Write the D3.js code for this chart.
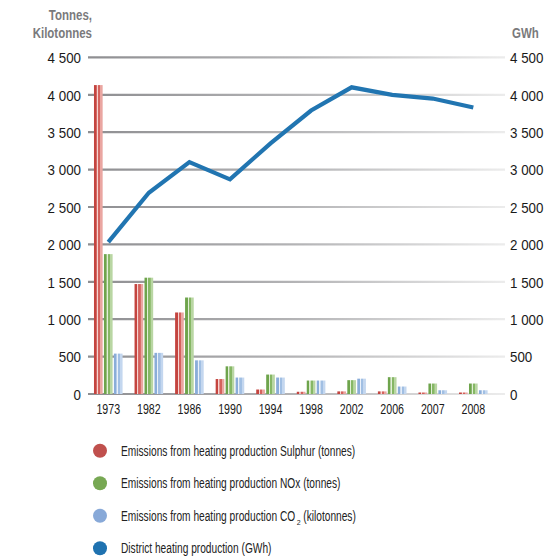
<!DOCTYPE html>
<html>
<head>
<meta charset="utf-8">
<script src="https://cdn.jsdelivr.net/npm/d3@7"></script>
<style>
  body { margin: 0; background: #fff; }
  text { font-family: "Liberation Sans", Arial, sans-serif; }
</style>
</head>
<body>
<div id="viz"></div>
<script>
// values
var years = ['1973', '1982', '1986', '1990', '1994', '1998', '2002', '2006', '2007', '2008'];
var sulphur = [4130, 1470, 1090, 200, 60, 30, 35, 35, 20, 20];
var nox = [1870, 1555, 1290, 370, 260, 180, 185, 225, 140, 140];
var co2 = [540, 550, 450, 220, 220, 180, 205, 100, 50, 50];
var heating = [2030, 2690, 3100, 2870, 3350, 3790, 4100, 4000, 3950, 3830];
var yTicks = [0, 500, 1000, 1500, 2000, 2500, 3000, 3500, 4000, 4500];
var seriesNames = [
  'Emissions from heating production Sulphur (tonnes)',
  'Emissions from heating production NOx (tonnes)',
  'Emissions from heating production CO2 (kilotonnes)',
  'District heating production (GWh)'
];

var width = 560, height = 557;
var plotLeft = 88, plotRight = 493.6, plotTop = 57.4, plotBottom = 394;

var fmt = d3.formatLocale({ decimal: ',', thousands: '\u00a0', grouping: [3], currency: ['', ''] }).format(',d');

// squeeze text horizontally, the original uses a condensed face
function condense(sel, factor) {
  sel.each(function() {
    var w = this.getComputedTextLength();
    d3.select(this)
      .attr('textLength', w * factor)
      .attr('lengthAdjust', 'spacingAndGlyphs');
  });
}

var svg = d3.select('#viz').append('svg')
  .attr('width', width)
  .attr('height', height);

var defs = svg.append('defs');

var grid = defs.append('linearGradient')
  .attr('id', 'gridGrad')
  .attr('gradientUnits', 'userSpaceOnUse')
  .attr('x1', plotLeft).attr('x2', 505).attr('y1', 0).attr('y2', 0);
grid.append('stop').attr('offset', 0).attr('stop-color', '#8e8e91');
grid.append('stop').attr('offset', 0.5).attr('stop-color', '#b4b4b6');
grid.append('stop').attr('offset', 1).attr('stop-color', '#ececec');

// striped look of the bars
var barStyles = [
  { id: 'gRed', dark: '#c4443f', mid: '#d4625d', light: '#f6d4d1', soft: '#eaa6a1' },
  { id: 'gGreen', dark: '#6ea44c', mid: '#86b765', light: '#e2efd8', soft: '#b9d6a3' },
  { id: 'gBlue', dark: '#8aadd9', mid: '#a1bfe3', light: '#eaf1fa', soft: '#c4d7ef' }
];
barStyles.forEach(function(s) {
  var g = defs.append('linearGradient').attr('id', s.id)
    .attr('x1', 0).attr('x2', 1).attr('y1', 0).attr('y2', 0);
  [[0, s.dark], [0.28, s.dark], [0.32, s.light], [0.42, s.light], [0.46, s.mid],
   [0.68, s.mid], [0.72, s.soft], [1, s.soft]].forEach(function(st) {
    g.append('stop').attr('offset', st[0]).attr('stop-color', st[1]);
  });
});

var x = d3.scaleBand()
  .domain(years)
  .range([plotLeft, plotRight])
  .padding(0);

var keys = ['sulphur', 'nox', 'co2'];
var x1 = d3.scaleBand()
  .domain(keys)
  .range([x.bandwidth() / 2 - 14.3, x.bandwidth() / 2 + 14.3])
  .paddingInner(0.13);

var y = d3.scaleLinear()
  .domain([0, 4500])
  .range([plotBottom, plotTop]);

// gridlines
svg.append('g').selectAll('line')
  .data(yTicks)
  .enter().append('line')
  .attr('x1', plotLeft).attr('x2', 505)
  .attr('y1', function(d) { return y(d); })
  .attr('y2', function(d) { return y(d); })
  .attr('stroke', 'url(#gridGrad)')
  .attr('stroke-width', 2.2);

// left & right tick labels
var yLeft = d3.axisLeft(y).tickValues(yTicks).tickFormat(fmt).tickSize(0).tickPadding(0);
var gl = svg.append('g').attr('transform', 'translate(81,0)').call(yLeft);
var yRight = d3.axisRight(y).tickValues(yTicks).tickFormat(fmt).tickSize(0).tickPadding(0);
var gr = svg.append('g').attr('transform', 'translate(510,0)').call(yRight);
[gl, gr].forEach(function(g) {
  g.select('.domain').remove();
  g.selectAll('text')
    .attr('fill', '#1a1a1a')
    .style('font-family', '"Liberation Sans", Arial, sans-serif')
    .style('font-size', '14.5px')
    .attr('dy', '0.36em')
    .call(condense, 0.92);
});

// bars
var series = [sulphur, nox, co2];
var groups = svg.append('g').selectAll('g')
  .data(years)
  .enter().append('g')
  .attr('transform', function(d) { return 'translate(' + x(d) + ',0)'; });

groups.selectAll('rect')
  .data(function(d, i) {
    return keys.map(function(k, j) { return { key: k, value: series[j][i], idx: j }; });
  })
  .enter().append('rect')
  .attr('x', function(d) { return x1(d.key); })
  .attr('width', x1.bandwidth())
  .attr('y', function(d) { return y(d.value); })
  .attr('height', function(d) { return plotBottom - y(d.value); })
  .attr('fill', function(d) { return 'url(#' + barStyles[d.idx].id + ')'; });

// x labels
var xAxis = d3.axisBottom(x).tickSize(0).tickPadding(0);
var gx = svg.append('g').attr('transform', 'translate(0,' + (plotBottom + 9) + ')').call(xAxis);
gx.select('.domain').remove();
gx.selectAll('text')
  .attr('fill', '#1a1a1a')
  .style('font-family', '"Liberation Sans", Arial, sans-serif')
  .style('font-size', '14px')
  .attr('dy', '0.75em')
  .call(condense, 0.76);

// heating production line
var line = d3.line()
  .x(function(d, i) { return x(years[i]) + x.bandwidth() / 2; })
  .y(function(d) { return y(d); });

svg.append('path')
  .datum(heating)
  .attr('d', line)
  .attr('fill', 'none')
  .attr('stroke', '#2175b1')
  .attr('stroke-width', 4.2)
  .attr('stroke-linejoin', 'miter');

// axis titles
var titles = [
  { t: 'Tonnes,', x: 92, y: 20, a: 'end' },
  { t: 'Kilotonnes', x: 92, y: 38, a: 'end' },
  { t: 'GWh', x: 512, y: 38, a: 'start' }
];
svg.append('g').selectAll('text')
  .data(titles)
  .enter().append('text')
  .attr('x', function(d) { return d.x; })
  .attr('y', function(d) { return d.y; })
  .attr('text-anchor', function(d) { return d.a; })
  .attr('fill', '#7a7a7c')
  .style('font-size', '14px')
  .style('font-weight', 'bold')
  .text(function(d) { return d.t; })
  .call(condense, 0.82);

// legend
var legendColors = ['#c0504d', '#77a853', '#88a9d8', '#1f72b0'];
var legendSqueeze = 0.727;
var legend = svg.append('g').selectAll('g')
  .data(seriesNames)
  .enter().append('g')
  .attr('transform', function(d, i) { return 'translate(100,' + (450.7 + i * 32.5) + ')'; });

legend.append('circle')
  .attr('r', 7)
  .attr('fill', function(d, i) { return legendColors[i]; });

legend.each(function(d) {
  var g = d3.select(this);
  // CO2 gets a subscript 2, drawn as separate pieces
  var parts = d.indexOf('CO2') >= 0 ? d.split('CO2') : [d];
  var t1 = g.append('text')
    .attr('x', 21)
    .attr('dy', '0.35em')
    .attr('fill', '#222')
    .style('font-size', '14px')
    .text(parts.length > 1 ? parts[0] + 'CO' : d)
    .call(condense, legendSqueeze);
  if (parts.length > 1) {
    var w = +t1.attr('textLength');
    g.append('text')
      .attr('x', 21 + w + 1.5)
      .attr('y', 9)
      .attr('fill', '#222')
      .style('font-size', '7px')
      .text('2');
    g.append('text')
      .attr('x', 21 + w + 8)
      .attr('dy', '0.35em')
      .attr('fill', '#222')
      .style('font-size', '14px')
      .text(parts[1].trim())
      .call(condense, legendSqueeze);
  }
});
</script>
</body>
</html>
